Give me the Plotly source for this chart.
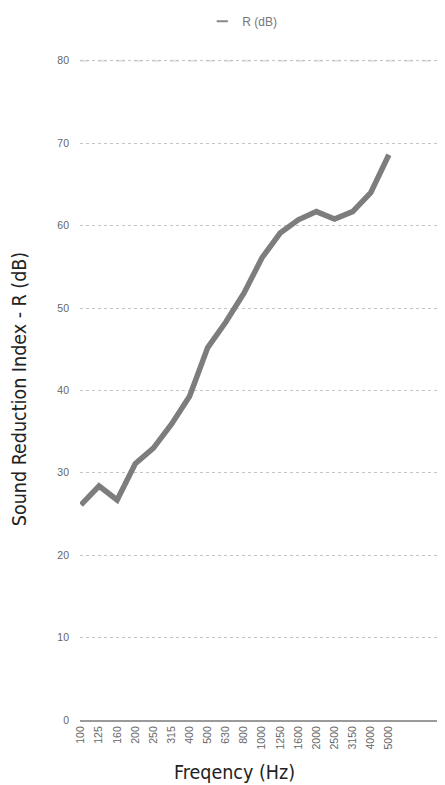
import plotly.graph_objects as go

FREQS = ["100", "125", "160", "200", "250", "315", "400", "500", "630", "800",
         "1000", "1250", "1600", "2000", "2500", "3150", "4000", "5000"]
R_DB = [26.1, 28.4, 26.7, 31.1, 33.0, 35.9, 39.3, 45.2, 48.3, 51.8,
        56.1, 59.1, 60.7, 61.7, 60.8, 61.7, 64.0, 68.6]
Y_TICKS = [0, 10, 20, 30, 40, 50, 60, 70, 80]
SERIES_NAME = "R (dB)"
X_TITLE = "Freqency (Hz)"
Y_TITLE = "Sound Reduction Index - R (dB)"

xs = list(range(len(FREQS)))
NARROW = "DejaVu Sans Condensed, Liberation Sans Narrow, Roboto, sans-serif"
LINE_COLOR = "#7d7d7d"

fig = go.Figure()
fig.add_trace(go.Scatter(
    x=xs, y=R_DB, mode="lines", name=SERIES_NAME, showlegend=False,
    legendgroup="r", line=dict(color=LINE_COLOR, width=5.5),
))
# legend entry with a short dash symbol
fig.add_trace(go.Scatter(
    x=[None], y=[None], mode="markers", name=SERIES_NAME, legendgroup="r",
    marker=dict(symbol="line-ew-open", size=8, color="#888",
                line=dict(width=2, color="#888")),
))

fig.add_shape(type="line", xref="paper", x0=0, x1=1, yref="y",
              y0=Y_TICKS[-1], y1=Y_TICKS[-1],
              line=dict(color="#e2e2e2", width=2, dash="dash"), layer="below")

# x-axis title centred under the categories
fig.add_annotation(text=X_TITLE, xref="x", x=(len(FREQS) - 1) / 2,
                   yref="paper", y=-0.080, yanchor="middle", showarrow=False,
                   font=dict(size=19.5, color="#222", family=NARROW))

fig.update_layout(
    template="none",
    width=445, height=785,
    margin=dict(l=72, r=8, t=50, b=73, autoexpand=False),
    paper_bgcolor="white", plot_bgcolor="white",
    showlegend=True,
    legend=dict(orientation="h", x=0.335, xanchor="left", y=0.983, yanchor="middle",
                yref="container", font=dict(size=12, color="#777", family="Liberation Sans"),
                itemwidth=30, bgcolor="rgba(0,0,0,0)"),
    xaxis=dict(
        tickmode="array", tickvals=xs, ticktext=FREQS, tickangle=-90,
        range=[-0.05, 20.1], showgrid=False, zeroline=False, automargin=False,
        showline=True, linecolor="#9a9a9a", linewidth=2,
        tickfont=dict(size=10.5, color="#666", family="Liberation Sans"),
        ticks="", ticklen=0,
    ),
    yaxis=dict(
        tickvals=Y_TICKS, range=[0, 80.34], automargin=False,
        showgrid=True, gridcolor="#c4c4c4", griddash="dot", gridwidth=1,
        zeroline=False, showline=False,
        tickfont=dict(size=10.5, color="#666", family="Liberation Sans"),
        ticks="", ticklabelstandoff=10,
        title=dict(text=Y_TITLE, standoff=31,
                   font=dict(size=19.5, color="#222", family=NARROW)),
    ),
)

fig.write_html("out.html")
